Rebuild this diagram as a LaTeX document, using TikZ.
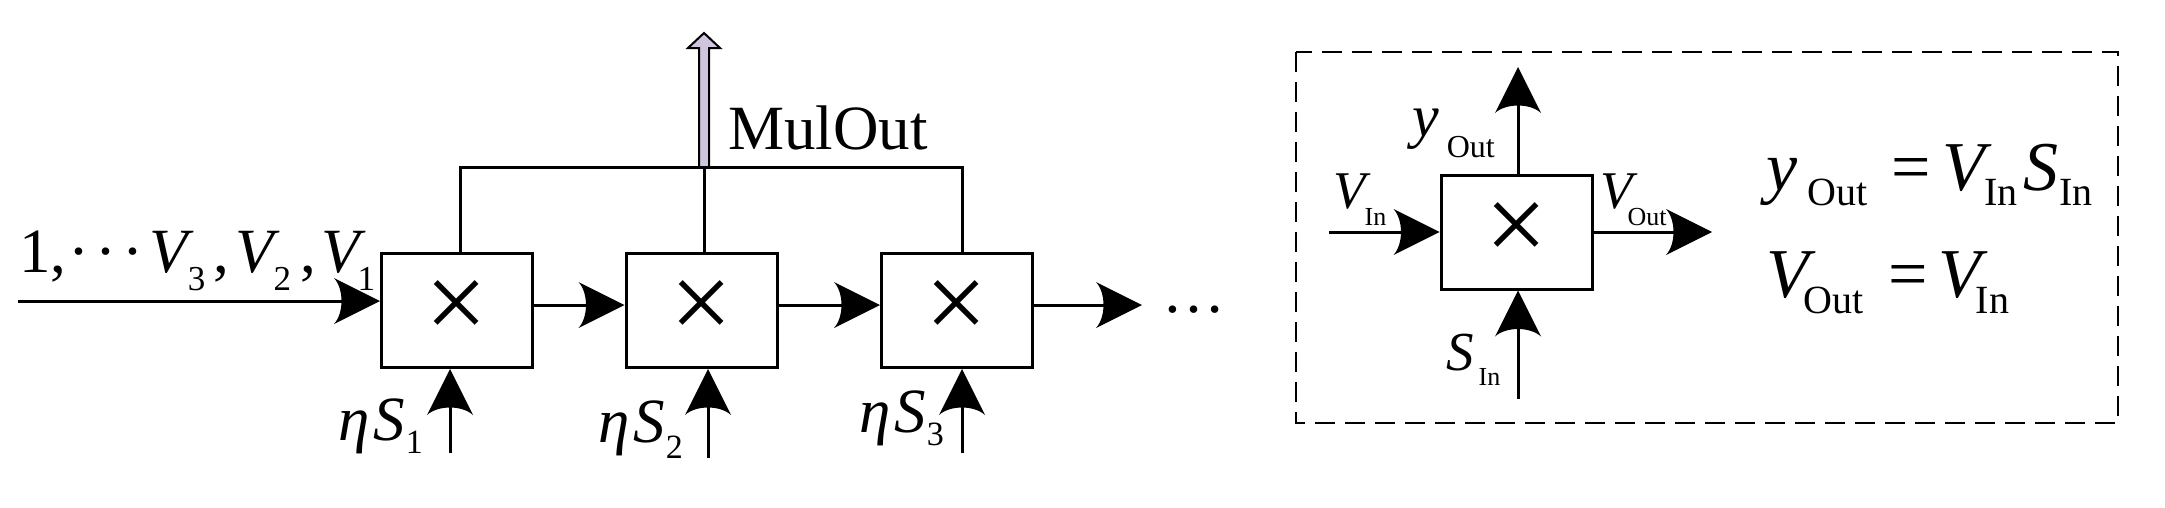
\documentclass[tikz,border=0pt]{standalone}
\usepackage{fontspec}
\setmainfont{Liberation Serif}
\usetikzlibrary{arrows.meta,calc}

\pgfdeclarearrow{
  name = Barb,
  setup code = {
    \pgfarrowssettipend{0pt}
    \pgfarrowssetbackend{-46pt}
    \pgfarrowssetlineend{-30pt}
    \pgfarrowssetvisualbackend{-38pt}
    \pgfarrowshullpoint{0pt}{0pt}
    \pgfarrowshullpoint{-46pt}{23pt}
    \pgfarrowshullpoint{-46pt}{-23pt}
  },
  drawing code = {
    \pgfpathmoveto{\pgfqpoint{0pt}{0pt}}
    \pgfpathlineto{\pgfqpoint{-46pt}{23pt}}
    \pgfpathcurveto{\pgfqpoint{-36pt}{12pt}}{\pgfqpoint{-36pt}{-12pt}}{\pgfqpoint{-46pt}{-23pt}}
    \pgfpathclose
    \pgfusepathqfill
  }
}

\definecolor{lav}{RGB}{206,198,221}
\newcommand{\fs}[1]{\fontsize{#1pt}{#1pt}\selectfont}
\newcommand{\lsub}[3]{\raisebox{-#1pt}{\fs{#2}#3}}
\newcommand{\Vs}[1]{\textit{V}\hspace{-6pt}\lsub{18}{35}{#1}}

\begin{document}
\begin{tikzpicture}[x=1pt,y=-1pt,
  mul/.style={draw, line width=3pt, minimum width=151pt, minimum height=114pt, inner sep=0pt, font=\fs{110}},
  conn/.style={line width=3pt, -{Barb}},
  wire/.style={line width=3pt},
  lab/.style={inner sep=0pt, anchor=base west},
  dashbox/.style={line width=2.5pt, dash pattern=on 20pt off 10pt},
]
\useasboundingbox (0,0) rectangle (2165,507);

% multiplier chain
\node[mul] (m1) at (457,310.5) {×};
\node[mul] (m2) at (701.5,310.5) {×};
\node[mul] (m3) at (957,310.5) {×};

\coordinate (in0) at (18,301);
\draw[conn] (in0) -- (in0 -| m1.west);
\draw[conn] ([yshift=5.5pt]m1.east) -- ([yshift=5.5pt]m2.west);
\draw[conn] ([yshift=5.5pt]m2.east) -- ([yshift=5.5pt]m3.west);
\coordinate (o3) at (1142,305);
\draw[conn] ([yshift=5.5pt]m3.east) -- (o3);
\node[inner sep=0pt, anchor=base, font=\fs{63}] (dots) at (1194,312) {…};

\coordinate (s1) at (450,453);
\coordinate (s2) at (708,458);
\coordinate (s3) at (962,453);
\draw[conn] (s1) -- (s1 |- m1.south);
\draw[conn] (s2) -- (s2 |- m2.south);
\draw[conn] (s3) -- (s3 |- m3.south);

\coordinate (j) at (704,167);
\draw[wire] ([xshift=3pt]m1.north) |- (j) -| ([xshift=5pt]m3.north);
\draw[wire] (j) -- (j |- m2.north);
\filldraw[fill=lav, draw=black, line width=2pt]
  (j) ++(-5,0) -- ++(0,-119) -- ++(-11,0) -- ++(16,-15) -- ++(16,15) -- ++(-11,0) -- ++(0,119) -- cycle;
\node[lab, font=\fs{63}] (mulout) at (728,149) {MulOut};

% input label
\node[lab, font=\fs{63}] (inlab) at (19,272)
  {1,\hspace{2pt}·\hspace{6pt}·\hspace{6pt}·\hspace{6pt}\Vs{3}\hspace{8pt},\hspace{6pt}\Vs{2}\hspace{9pt},\hspace{6pt}\textit{V}\hspace{-9pt}\lsub{18}{35}{1}};

\node[lab, font=\fs{63}] (es1) at (338,440) {\textit{η}\hspace{4pt}\textit{S}\hspace{1pt}\lsub{13}{34}{1}};
\node[lab, font=\fs{63}] (es2) at (598,442) {\textit{η}\hspace{4pt}\textit{S}\hspace{1pt}\lsub{16}{34}{2}};
\node[lab, font=\fs{63}] (es3) at (859,432) {\textit{η}\hspace{4pt}\textit{S}\hspace{1pt}\lsub{13}{34}{3}};

% legend
\draw[dashbox] (1296,52) rectangle (2118,423);
\node[mul] (m4) at (1516.5,232) {×};
\coordinate (yt) at (1518,67);
\coordinate (vi) at (1329,232);
\coordinate (vo) at (1712,232);
\coordinate (si) at (1518,399);
\draw[conn] (yt |- m4.north) -- (yt);
\draw[conn] (vi) -- (m4.west);
\draw[conn] (m4.east) -- (vo);
\draw[conn] (si) -- (si |- m4.south);

\node[lab, font=\fs{60}] (ylab) at (1412,136) {\textit{y}\hspace{8pt}\lsub{21}{32}{Out}};
\node[lab, font=\fs{53}] (vinlab) at (1333,208) {\textit{V}\hspace{-6pt}\lsub{17}{26}{In}};
\node[lab, font=\fs{53}] (voutlab) at (1600,208) {\textit{V}\hspace{-10pt}\lsub{17}{26}{Out}};
\node[lab, font=\fs{55}] (sinlab) at (1446,370) {\textit{S}\hspace{5pt}\lsub{15}{26}{In}};

\node[lab, font=\fs{70}] (eq1) at (1766,190)
  {\textit{y}\hspace{10pt}\lsub{15}{40}{Out}\hspace{24pt}=\hspace{12pt}\textit{V}\hspace{-8pt}\lsub{15}{40}{In}\hspace{6pt}\textit{S}\hspace{1pt}\lsub{15}{40}{In}};
\node[lab, font=\fs{70}] (eq2) at (1766,297)
  {\textit{V}\hspace{-12pt}\lsub{16}{40}{Out}\hspace{25pt}=\hspace{10pt}\textit{V}\hspace{-12pt}\lsub{16}{40}{In}};
\end{tikzpicture}
\end{document}
